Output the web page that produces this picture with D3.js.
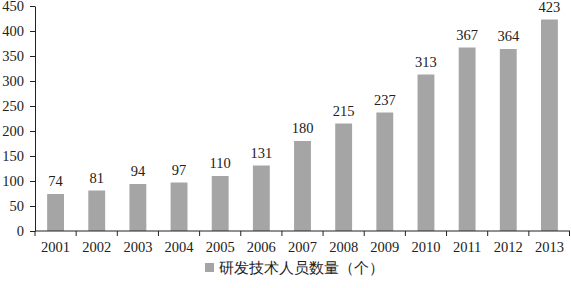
<!DOCTYPE html>
<html>
<head>
<meta charset="utf-8">
<script src="https://cdn.jsdelivr.net/npm/d3@7"></script>
<style>
  body { margin: 0; background: #fff; }
  text { font-family: "Liberation Serif", "DejaVu Serif", serif; }
</style>
</head>
<body>
<svg id="chart"></svg>
<script>
// data
const years = ["2001","2002","2003","2004","2005","2006","2007","2008","2009","2010","2011","2012","2013"]
const staff = [74, 81, 94, 97, 110, 131, 180, 215, 237, 313, 367, 364, 423]
const yTicks = [0, 50, 100, 150, 200, 250, 300, 350, 400, 450]
const seriesName = "研发技术人员数量（个）"

const width = 571, height = 288
const margin = {top: 6, right: 1, bottom: 57, left: 35}

const svg = d3.select("#chart")
  .attr("width", width)
  .attr("height", height)

const x = d3.scaleBand()
  .domain(years)
  .range([margin.left, width - margin.right])
  .paddingInner(0.59)
  .paddingOuter(0.295)

const y = d3.scaleLinear()
  .domain([0, 450])
  .range([height - margin.bottom, margin.top])

// bars
svg.append("g")
  .selectAll("rect")
  .data(staff)
  .join("rect")
    .attr("x", (d, i) => x(years[i]))
    .attr("y", d => y(d))
    .attr("width", x.bandwidth())
    .attr("height", d => y(0) - y(d))
    .attr("fill", "#a5a5a5")

// value labels
svg.append("g")
  .selectAll("text")
  .data(staff)
  .join("text")
    .attr("x", (d, i) => x(years[i]) + x.bandwidth() / 2)
    .attr("y", d => y(d) - 8)
    .attr("text-anchor", "middle")
    .attr("font-size", 14.5)
    .attr("fill", "#222")
    .text(d => d)

// y axis
const yAxis = svg.append("g")
  .attr("transform", `translate(${margin.left},0)`)
  .call(d3.axisLeft(y).tickValues(yTicks).tickSize(5).tickPadding(6).tickSizeOuter(0))
yAxis.selectAll("text").attr("font-size", 14.5).attr("fill", "#222").attr("font-family", "Liberation Serif")
yAxis.selectAll("line, path").attr("stroke", "#222")

// x axis: ticks sit between the categories
const step = x.step()
const boundaries = d3.range(years.length + 1).map(i => margin.left + i * step)
const xg = svg.append("g")
xg.append("line")
  .attr("x1", margin.left).attr("x2", width - margin.right)
  .attr("y1", y(0)).attr("y2", y(0))
  .attr("stroke", "#222")
xg.selectAll(".tk")
  .data(boundaries)
  .join("line")
    .attr("class", "tk")
    .attr("x1", d => Math.min(d, width - 1.5)).attr("x2", d => Math.min(d, width - 1.5))
    .attr("y1", y(0)).attr("y2", y(0) + 5)
    .attr("stroke", "#222")
xg.selectAll(".lbl")
  .data(years)
  .join("text")
    .attr("class", "lbl")
    .attr("x", d => x(d) + x.bandwidth() / 2)
    .attr("y", y(0) + 21)
    .attr("text-anchor", "middle")
    .attr("font-size", 14.5)
    .attr("fill", "#222")
    .text(d => d)

// legend
const lg = svg.append("g").attr("transform", "translate(205,263)")
lg.append("rect")
  .attr("width", 9).attr("height", 9)
  .attr("fill", "#a5a5a5")
lg.append("text")
  .attr("x", 14).attr("y", 9.5)
  .attr("font-size", 14.5)
  .attr("font-family", "Noto Sans CJK SC")
  .attr("font-weight", 300)
  .attr("fill", "#222")
  .text(seriesName)
</script>
</body>
</html>
